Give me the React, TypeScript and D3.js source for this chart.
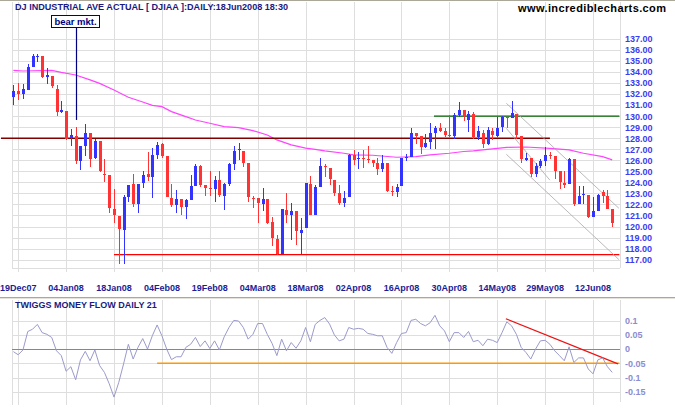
import React from "react";
import * as d3 from "d3";

// daily candles, 18Dec07 .. 18Jun08 (index 0..125), in DJIA / 100
const OPENS = [
  131.7, 132.3, 132.0, 132.4, 134.5, 135.4, 135.45, 133.6, 133.65, 132.5,
  130.4, 130.5, 128.0, 128.2, 125.9, 127.3, 128.45, 126.2, 127.75, 124.8,
  124.7, 121.6, 120.95, 119.7, 122.7, 123.85, 122.05, 123.9, 124.75, 124.45,
  126.5, 127.45, 126.35, 122.55, 121.95, 122.5, 121.8, 122.4, 123.7, 125.5,
  123.75, 123.5, 123.4, 124.2, 122.8, 123.85, 125.65, 126.9, 126.85, 125.75,
  122.6, 122.55, 122.05, 122.5, 120.45, 118.85, 117.5, 121.5, 121.05, 121.4,
  119.45, 119.85, 123.85, 121.05, 123.6, 125.5, 125.3, 124.2, 123.0, 122.15,
  122.7, 126.5, 126.1, 126.25, 126.15, 126.05, 125.8, 125.2, 125.75, 123.25,
  123.1, 123.7, 126.2, 126.3, 128.45, 128.2, 127.2, 127.7, 128.45, 128.9,
  128.65, 128.3, 128.2, 130.1, 130.55, 129.65, 130.2, 128.1, 128.5, 127.5,
  128.65, 128.25, 129.0, 129.95, 129.8, 130.2, 128.2, 126.0, 126.25, 124.75,
  125.45, 125.95, 126.5, 126.4, 125.05, 123.9, 123.85, 126.1, 122.05, 122.85,
  122.9, 120.85, 121.45, 123.1, 122.75, 121.6,
];
const HIGHS = [
  132.8, 133.0, 132.9, 134.75, 135.65, 135.65, 135.45, 134.4, 133.65, 132.8,
  131.4, 130.5, 128.85, 129.0, 127.3, 129.3, 128.45, 127.9, 127.75, 126.1,
  124.7, 123.4, 120.95, 122.85, 123.8, 124.8, 123.85, 125.0, 126.8, 127.1,
  127.7, 127.55, 126.35, 123.85, 123.3, 122.5, 122.5, 124.7, 125.7, 125.6,
  123.75, 125.0, 124.6, 125.0, 123.95, 125.8, 127.3, 127.55, 126.85, 125.75,
  122.75, 122.55, 123.45, 122.5, 120.9, 119.25, 121.55, 123.0, 122.1, 121.4,
  120.75, 123.9, 124.6, 123.75, 126.25, 125.7, 125.3, 124.2, 123.75, 123.25,
  126.6, 126.95, 126.75, 126.9, 127.3, 126.05, 126.25, 126.45, 125.75, 123.7,
  123.85, 126.25, 126.6, 128.95, 128.45, 128.2, 128.4, 129.4, 129.1, 129.35,
  128.9, 130.1, 130.3, 131.3, 130.55, 130.5, 130.4, 129.1, 128.75, 129.0,
  128.9, 129.9, 130.0, 129.95, 131.4, 130.2, 128.2, 126.65, 126.25, 125.75,
  126.1, 127.2, 126.8, 126.4, 125.05, 125.0, 126.2, 126.1, 123.65, 123.65,
  122.9, 122.7, 122.95, 123.3, 123.3, 121.6,
];
const LOWS = [
  131.0, 131.5, 131.6, 132.4, 134.5, 134.95, 133.5, 132.9, 132.6, 130.0,
  130.25, 127.85, 127.3, 125.7, 125.1, 126.35, 125.4, 126.1, 124.9, 124.0,
  121.2, 120.3, 116.6, 116.6, 122.25, 121.8, 121.2, 123.5, 124.1, 122.55,
  126.15, 126.25, 122.65, 121.75, 121.25, 121.05, 120.7, 122.4, 123.7, 123.6,
  122.8, 122.8, 122.25, 122.7, 121.5, 123.7, 125.1, 126.05, 125.35, 122.25,
  121.65, 120.35, 121.45, 120.2, 118.2, 117.45, 117.5, 120.35, 118.8, 118.35,
  117.5, 119.85, 121.0, 121.0, 123.6, 124.5, 123.8, 122.75, 121.95, 121.8,
  122.7, 125.6, 125.2, 125.3, 125.8, 125.35, 124.7, 124.9, 123.1, 122.8,
  122.7, 123.7, 125.9, 126.3, 127.5, 126.6, 127.1, 127.05, 127.05, 128.6,
  128.15, 128.15, 127.95, 129.9, 129.6, 128.6, 127.95, 127.85, 127.1, 127.4,
  127.85, 128.15, 128.6, 128.9, 129.8, 127.9, 125.8, 125.95, 124.5, 124.45,
  125.3, 125.5, 126.1, 124.3, 123.4, 123.45, 123.85, 121.9, 122.0, 122.05,
  120.8, 120.85, 121.45, 122.15, 121.6, 120.0,
];
const CLOSES = [
  132.3, 132.0, 132.45, 134.45, 135.45, 135.5, 133.6, 133.7, 132.7, 130.4,
  130.55, 127.9, 128.3, 125.9, 127.3, 128.45, 126.1, 127.75, 125.05, 124.7,
  121.65, 121.0, 119.75, 122.7, 123.75, 122.05, 123.85, 124.7, 124.45, 126.5,
  127.4, 126.35, 122.7, 121.95, 122.5, 121.8, 122.4, 123.7, 125.5, 123.75,
  123.45, 123.4, 124.2, 122.85, 123.85, 125.65, 126.85, 127.0, 125.8, 122.7,
  122.5, 122.15, 122.5, 120.35, 119.0, 117.5, 121.55, 121.05, 121.4, 119.55,
  119.7, 123.9, 121.0, 123.6, 125.5, 125.35, 124.3, 123.0, 122.15, 122.55,
  126.5, 126.05, 126.25, 126.1, 126.05, 125.75, 125.2, 125.8, 123.25, 123.1,
  123.6, 126.25, 126.3, 128.45, 128.25, 127.2, 127.6, 128.45, 128.95, 128.7,
  128.3, 128.2, 130.1, 130.55, 130.0, 130.2, 128.1, 128.7, 127.5, 128.75,
  128.3, 128.9, 129.95, 129.8, 130.3, 128.3, 126.1, 126.25, 124.75, 125.5,
  125.95, 126.5, 126.35, 125.05, 124.05, 123.8, 126.1, 122.05, 122.75, 122.95,
  120.85, 121.4, 122.85, 122.75, 121.6, 120.3,
];

// moving average, read at sample points [index, value]
const MA_POINTS: [number, number][] = [
  [0, 134.16], [2, 134.1], [8, 134.16], [10, 133.98], [13, 133.74], [16, 133.29],
  [18, 132.98], [21, 132.38], [24, 131.72], [27, 131.29], [29, 130.99], [31, 130.87],
  [33, 130.42], [36, 129.96], [38, 129.66], [41, 129.36], [44, 129.06], [47, 128.97],
  [50, 128.69], [53, 128.3], [55, 127.85], [58, 127.4], [61, 127.1], [63, 127.0],
  [65, 126.85], [69, 126.64], [71, 126.49], [75, 126.46], [80, 126.28], [84, 126.34],
  [87, 126.49], [91, 126.64], [94, 126.8], [96, 126.85], [100, 127.03], [103, 127.18],
  [107, 127.21], [112, 127.09], [116, 126.94], [119, 126.64], [123, 126.34], [125, 126.04],
];

// Twiggs money flow 21
const MONEY_FLOW = [
  -0.009, -0.02, -0.003, 0.062, 0.07, 0.087, 0.058, 0.052, 0.041, -0.006,
  -0.023, -0.078, -0.062, -0.108, -0.038, -0.008, -0.041, -0.003, -0.058, -0.082,
  -0.122, -0.169, -0.117, -0.052, 0.017, -0.035, 0.006, 0.037, 0.0, 0.047,
  0.085, 0.047, 0.0, -0.037, -0.027, -0.027, 0.006, 0.017, 0.041, 0.009,
  0.029, 0.002, 0.029, -0.003, 0.043, 0.076, 0.101, 0.099, 0.076, 0.035,
  0.052, 0.09, 0.09, 0.052, 0.02, -0.023, 0.035, -0.006, 0.023, 0.003,
  0.029, 0.076, 0.026, 0.087, 0.101, 0.111, 0.088, 0.05, 0.029, 0.035,
  0.076, 0.07, 0.073, 0.07, 0.055, 0.052, 0.047, 0.047, 0.006, -0.015,
  0.023, 0.055, 0.058, 0.101, 0.105, 0.09, 0.082, 0.093, 0.119, 0.082,
  0.064, 0.026, 0.058, 0.058, 0.041, 0.062, 0.026, 0.031, 0.012, 0.035,
  0.031, 0.023, 0.058, 0.096, 0.082, 0.052, 0.006, -0.012, -0.035, 0.0,
  0.029, 0.031, 0.017, -0.006, -0.023, -0.041, 0.008, -0.047, -0.031, -0.031,
  -0.07, -0.087, -0.038, -0.031, -0.062, -0.082,
];

const DATE_TICKS = [1, 11, 21, 31, 41, 51, 61, 71, 81, 91, 101, 111, 121];
const DATE_LABELS = [
  "19Dec07", "04Jan08", "18Jan08", "04Feb08", "19Feb08", "04Mar08", "18Mar08",
  "02Apr08", "16Apr08", "30Apr08", "14May08", "29May08", "12Jun08",
];
const PRICE_TICKS = d3.range(117, 138);
const FLOW_TICKS = [0.1, 0.05, 0, -0.05, -0.1, -0.15];
const FLOW_TICK_LABELS = ["0.1", "0.05", "0", "-0.05", "-0.1", "-0.15"];

// drawn lines: [startIndex, startValue, endIndex, endValue]
const PRICE_LINES: { pts: [number, number, number, number]; kind: string }[] = [
  { pts: [-2.6, 128.0, 112, 128.0], kind: "resist" },
  { pts: [21, 117.45, 126.5, 117.45], kind: "support" },
  { pts: [87.8, 130.0, 126.5, 130.0], kind: "top" },
  { pts: [102.9, 131.17, 126.4, 121.65], kind: "channel" },
  { pts: [102.9, 128.9, 112, 124.2], kind: "channel" },
  { pts: [102.9, 126.55, 126.4, 117.0], kind: "channel" },
];
const FLOW_LINES: { pts: [number, number, number, number]; kind: string }[] = [
  { pts: [30, -0.05, 126.5, -0.05], kind: "level" },
  { pts: [102.8, 0.107, 126.2, -0.052], kind: "trend" },
];
const BEAR_INDEX = 13;
const BEAR_LOW = 129.66;
const BEAR_TOP = 138.35;

const W = 675;
const H = 410;
const LEFT = 12;
const RIGHT = 620;
const FONT = "'Liberation Sans', Arial, sans-serif";
const GRID = "#dedede";
const UP = "#3333ff";
const DOWN = "#ff3333";

const LINE_COLORS: Record<string, string> = {
  resist: "#800000",
  support: "#ff0000",
  top: "#006400",
  channel: "#a8a8a8",
  level: "#ff9900",
  trend: "#ee1111",
};

export default function App() {
  const x = d3.scaleLinear().domain([0, 125]).range([13.4, 612.2]);
  const y = d3.scaleLinear().domain([117, 137]).range([259.6, 39.0]);
  const yf = d3.scaleLinear().domain([-0.15, 0.1]).range([391.7, 320.7]);
  const px = (i: number) => Math.round(x(i));

  const maPath =
    d3
      .line<[number, number]>()
      .x((d) => x(d[0]))
      .y((d) => y(d[1]))(MA_POINTS) || "";
  const flowPath =
    d3
      .line<number>()
      .x((_, i) => x(i))
      .y((d) => yf(d))(MONEY_FLOW) || "";

  return (
    <svg
      width={W}
      height={H}
      viewBox={`0 0 ${W} ${H}`}
      style={{ position: "absolute", left: 0, top: 0, background: "#fff" }}
      fontFamily={FONT}
    >
      <rect x={0} y={0} width={W} height={H} fill="#fff" />
      <line x1={0} x2={W} y1={0.5} y2={0.5} stroke="#aca899" />

      {/* price grid */}
      <g shapeRendering="crispEdges" stroke={GRID}>
        {PRICE_TICKS.map((v) => (
          <line key={v} x1={LEFT} x2={RIGHT} y1={Math.round(y(v)) + 0.5} y2={Math.round(y(v)) + 0.5} />
        ))}
        {DATE_TICKS.map((t) => (
          <line key={t} x1={px(t) + 0.5} x2={px(t) + 0.5} y1={2} y2={272} />
        ))}
        <line x1={LEFT + 0.5} x2={LEFT + 0.5} y1={2} y2={268} />
        <line x1={RIGHT + 0.5} x2={RIGHT + 0.5} y1={2} y2={268} />
        <line x1={LEFT} x2={RIGHT} y1={268.5} y2={268.5} />
      </g>

      {/* moving average */}
      <path d={maPath} fill="none" stroke="#ff44ff" strokeWidth={1.2} />

      {/* drawn price lines */}
      {PRICE_LINES.map((l, k) => (
        <line
          key={k}
          x1={x(l.pts[0])}
          y1={y(l.pts[1])}
          x2={x(l.pts[2])}
          y2={y(l.pts[3])}
          stroke={LINE_COLORS[l.kind]}
          strokeWidth={l.kind === "channel" ? 0.8 : 1.3}
        />
      ))}

      {/* candles */}
      <g shapeRendering="crispEdges">
        {OPENS.map((o, i) => {
          const c = CLOSES[i];
          const col = c >= o ? UP : DOWN;
          const cx = px(i);
          const top = Math.round(y(Math.max(o, c)));
          const bot = Math.round(y(Math.min(o, c)));
          return (
            <g key={i}>
              <line x1={cx + 0.5} x2={cx + 0.5} y1={y(HIGHS[i])} y2={y(LOWS[i])} stroke={col} />
              <rect x={cx - 1} y={top} width={3} height={Math.max(1, bot - top)} fill={col} />
            </g>
          );
        })}
      </g>

      {/* bear market marker */}
      <line
        x1={px(BEAR_INDEX) + 0.5}
        x2={px(BEAR_INDEX) + 0.5}
        y1={y(BEAR_TOP)}
        y2={y(BEAR_LOW)}
        stroke="#000080"
        strokeWidth={1.2}
      />
      <rect x={51.5} y={15.5} width={48} height={12} fill="#fff" stroke="#000080" />
      <text x={75.5} y={24.5} textAnchor="middle" fontSize={9.5} fontWeight="bold" fill="#000080">
        bear mkt.
      </text>

      {/* titles */}
      <text x={15} y={10} fontSize={9} fontWeight="bold" fill="#1a1a80" textLength={273} lengthAdjust="spacingAndGlyphs">
        DJ INDUSTRIAL AVE ACTUAL [ DJIAA ]:DAILY:18Jun2008 18:30
      </text>
      <text x={518} y={12} fontSize={11} fontWeight="bold" fill="#000" textLength={148} lengthAdjust="spacing">
        www.incrediblecharts.com
      </text>

      {/* price axis labels */}
      {PRICE_TICKS.map((v) => (
        <text key={v} x={625} y={y(v) + 3.3} fontSize={9} fontWeight="bold" fill="#3c3cf0">
          {v.toFixed(2)}
        </text>
      ))}

      {/* date labels */}
      {DATE_TICKS.map((t, k) => (
        <text key={t} x={x(t)} y={291} textAnchor="middle" fontSize={9} fontWeight="bold" fill="#1c1c96">
          {DATE_LABELS[k]}
        </text>
      ))}

      {/* panel separator */}
      <line x1={0} x2={W} y1={297.5} y2={297.5} stroke="#aca899" />
      <line x1={0} x2={W} y1={298.5} y2={298.5} stroke="#e4e2da" />

      {/* money flow grid */}
      <g shapeRendering="crispEdges" stroke={GRID}>
        {FLOW_TICKS.filter((v) => v !== 0).map((v) => (
          <line key={v} x1={LEFT} x2={RIGHT} y1={Math.round(yf(v)) + 0.5} y2={Math.round(yf(v)) + 0.5} />
        ))}
        {DATE_TICKS.map((t) => (
          <line key={t} x1={px(t) + 0.5} x2={px(t) + 0.5} y1={300} y2={405} />
        ))}
        <line x1={LEFT + 0.5} x2={LEFT + 0.5} y1={300} y2={405} />
        <line x1={RIGHT + 0.5} x2={RIGHT + 0.5} y1={300} y2={402} />
      </g>
      <line x1={LEFT} x2={RIGHT} y1={Math.round(yf(0)) + 0.5} y2={Math.round(yf(0)) + 0.5} stroke="#8080c0" />

      {FLOW_LINES.map((l, k) => (
        <line
          key={k}
          x1={x(l.pts[0])}
          y1={yf(l.pts[1])}
          x2={x(l.pts[2])}
          y2={yf(l.pts[3])}
          stroke={LINE_COLORS[l.kind]}
          strokeWidth={l.kind === "level" ? 1.6 : 1.2}
        />
      ))}
      <path d={flowPath} fill="none" stroke="#9a9acc" strokeWidth={1} />

      <text x={15} y={307.7} fontSize={9} fontWeight="bold" fill="#1a1a80">
        TWIGGS MONEY FLOW DAILY 21
      </text>
      {FLOW_TICKS.map((v, k) => (
        <text key={v} x={625} y={yf(v) + 3.3} fontSize={9} fontWeight="bold" fill="#8c8cd0">
          {FLOW_TICK_LABELS[k]}
        </text>
      ))}
    </svg>
  );
}
